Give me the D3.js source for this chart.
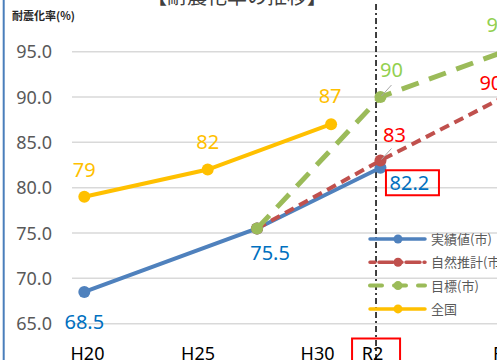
<!DOCTYPE html>
<html>
<head>
<meta charset="utf-8">
<script src="https://cdn.jsdelivr.net/npm/d3@7"></script>
<style>
  html, body { margin: 0; padding: 0; background: #fff; overflow: hidden; }
  svg { display: block; }
  text { font-family: "Noto Sans", "Noto Sans CJK JP", sans-serif; }
  .jp { font-family: "Noto Sans CJK JP", sans-serif; }
</style>
</head>
<body>
<svg id="chart" width="497" height="360"></svg>
<script>
// Seismic retrofit rate (%) by fiscal year
const titleText = "【耐震化率の推移】";
const yAxisTitle = "耐震化率(%)";

const yTicks = [65, 70, 75, 80, 85, 90, 95];
const xTickLabels = ["H20", "H25", "H30", "R2", "R7"];
const xTickYears = [2008.13, 2012.61, 2017.45, 2019.68, 2025.0];
const referenceYear = 2019.82;   // current year marker (R2)

const actualYears = [2008, 2015, 2020];
const actualValues = [68.5, 75.5, 82.2];

const projectedYears = [2015, 2020, 2025];
const projectedValues = [75.5, 83, 90];

const targetYears = [2015, 2020, 2025];
const targetValues = [75.5, 90, 95];

const nationalYears = [2008, 2013, 2018];
const nationalValues = [79, 82, 87];

const legendNames = ["実績値(市)", "自然推計(市)", "目標(市)", "全国"];

const W = 497, H = 360;
const svg = d3.select("#chart");

const x = d3.scaleLinear().domain([2008, 2013]).range([84.3, 207.7]);
const y = d3.scaleLinear().domain([65, 95]).range([323.7, 51.7]);

const colors = {
  actual: "#4F81BD",
  projected: "#C0504D",
  target: "#9BBB59",
  national: "#FFC000"
};
const labelColors = {
  actual: "#0070C0",
  projected: "#FF0000",
  target: "#92D050",
  national: "#FFC000"
};

const series = [
  { key: "national", years: nationalYears, values: nationalValues, dash: null, width: 4 },
  { key: "actual", years: actualYears, values: actualValues, dash: null, width: 4 },
  { key: "projected", years: projectedYears, values: projectedValues, dash: "10,6", width: 4 },
  { key: "target", years: targetYears, values: targetValues, dash: "18,11", width: 5 }
];

// gridlines
svg.append("g").selectAll("line").data(yTicks).join("line")
  .attr("x1", 72).attr("x2", W)
  .attr("y1", d => y(d)).attr("y2", d => y(d))
  .attr("stroke", "#D9D9D9").attr("stroke-width", 1.5);

// y tick labels
svg.append("g").selectAll("text").data(yTicks).join("text")
  .attr("x", 52).attr("y", d => y(d) + 6.5)
  .attr("text-anchor", "end")
  .attr("font-size", 18).attr("fill", "#595959")
  .text(d => d.toFixed(1));

// x tick labels
svg.append("g").selectAll("text").data(xTickLabels).join("text")
  .attr("x", (d, i) => x(xTickYears[i]))
  .attr("y", 360)
  .attr("text-anchor", "middle")
  .attr("font-size", 18).attr("fill", "#000")
  .text(d => d);

// box around the current year label
svg.append("rect")
  .attr("x", x(xTickYears[3]) - 20.5).attr("y", 338.5)
  .attr("width", 48).attr("height", 30)
  .attr("fill", "none").attr("stroke", "#FF0000").attr("stroke-width", 2);

// current year reference line
svg.append("line")
  .attr("x1", x(referenceYear)).attr("x2", x(referenceYear))
  .attr("y1", 4).attr("y2", H)
  .attr("stroke", "#000").attr("stroke-width", 1.5)
  .attr("stroke-dasharray", "6,3,2,3");

// title and axis title
svg.append("text").attr("class", "jp")
  .attr("x", 147).attr("y", 4)
  .attr("font-size", 20).attr("fill", "#404040")
  .text(titleText);
svg.append("text").attr("class", "jp")
  .attr("x", 12).attr("y", 20)
  .attr("font-size", 11).attr("font-weight", "bold").attr("fill", "#262626")
  .text(yAxisTitle);

// left border
svg.append("line")
  .attr("x1", 3.7).attr("x2", 3.7).attr("y1", 0).attr("y2", H)
  .attr("stroke", "#4A7EBB").attr("stroke-width", 2);

// legend
const legend = svg.append("g");
const legendKeys = ["actual", "projected", "target", "national"];
const legendDash = { actual: null, projected: "5,4,14,4", target: "12,12", national: null };
legendKeys.forEach((k, i) => {
  const ly = 239 + i * 23.3;
  legend.append("line")
    .attr("x1", 370).attr("x2", 425).attr("y1", ly).attr("y2", ly)
    .attr("stroke", colors[k]).attr("stroke-width", k === "target" ? 4 : 3.5)
    .attr("stroke-dasharray", legendDash[k])
    .attr("stroke-linecap", "round");
  legend.append("circle").attr("cx", 398).attr("cy", ly).attr("r", 4.5).attr("fill", colors[k]);
  legend.append("text").attr("class", "jp")
    .attr("x", 431).attr("y", ly + 5)
    .attr("font-size", 13).attr("fill", "#595959")
    .text(legendNames[i]);
});

// series lines and markers
const line = d3.line().x(d => x(d[0])).y(d => y(d[1]));
series.forEach(s => {
  const pts = s.years.map((yr, i) => [yr, s.values[i]]);
  const g = svg.append("g");
  g.append("path").datum(pts)
    .attr("d", line)
    .attr("fill", "none")
    .attr("stroke", colors[s.key])
    .attr("stroke-width", s.width)
    .attr("stroke-dasharray", s.dash);
  g.selectAll("circle").data(pts).join("circle")
    .attr("cx", d => x(d[0])).attr("cy", d => y(d[1]))
    .attr("r", 6).attr("fill", colors[s.key]);
});

// data labels: [seriesKey, year, value, dx, dy]
const labels = [
  ["national", 2008, 79, 0, -20],
  ["national", 2013, 82, 0, -21],
  ["national", 2018, 87, -1, -21],
  ["actual", 2008, 68.5, 0, 37],
  ["actual", 2015, 75.5, 13, 31],
  ["actual", 2020, 82.2, 29, 22],
  ["projected", 2020, 83, 14, -19],
  ["projected", 2025, 90, -13, -7],
  ["target", 2020, 90, 11, -20],
  ["target", 2025, 95, -6, -20]
];

// leader lines
[["target", 2020, 90], ["projected", 2020, 83]].forEach(([k, yr, v]) => {
  svg.append("line")
    .attr("x1", x(yr) + 1).attr("y1", y(v) - 1)
    .attr("x2", x(yr) + 11).attr("y2", y(v) - 12)
    .attr("stroke", "#A6A6A6").attr("stroke-width", 1);
});

svg.append("g").selectAll("text").data(labels).join("text")
  .attr("x", d => x(d[1]) + d[3])
  .attr("y", d => y(d[2]) + d[4])
  .attr("text-anchor", "middle")
  .attr("font-size", 20)
  .attr("fill", d => labelColors[d[0]])
  .text(d => String(d[2]));

// box around the latest actual value
const boxed = labels[5];
svg.append("rect")
  .attr("x", x(boxed[1]) + 5.5).attr("y", y(boxed[2]) + 2.5)
  .attr("width", 53).attr("height", 25)
  .attr("fill", "none").attr("stroke", "#FF0000").attr("stroke-width", 2);
</script>
</body>
</html>
